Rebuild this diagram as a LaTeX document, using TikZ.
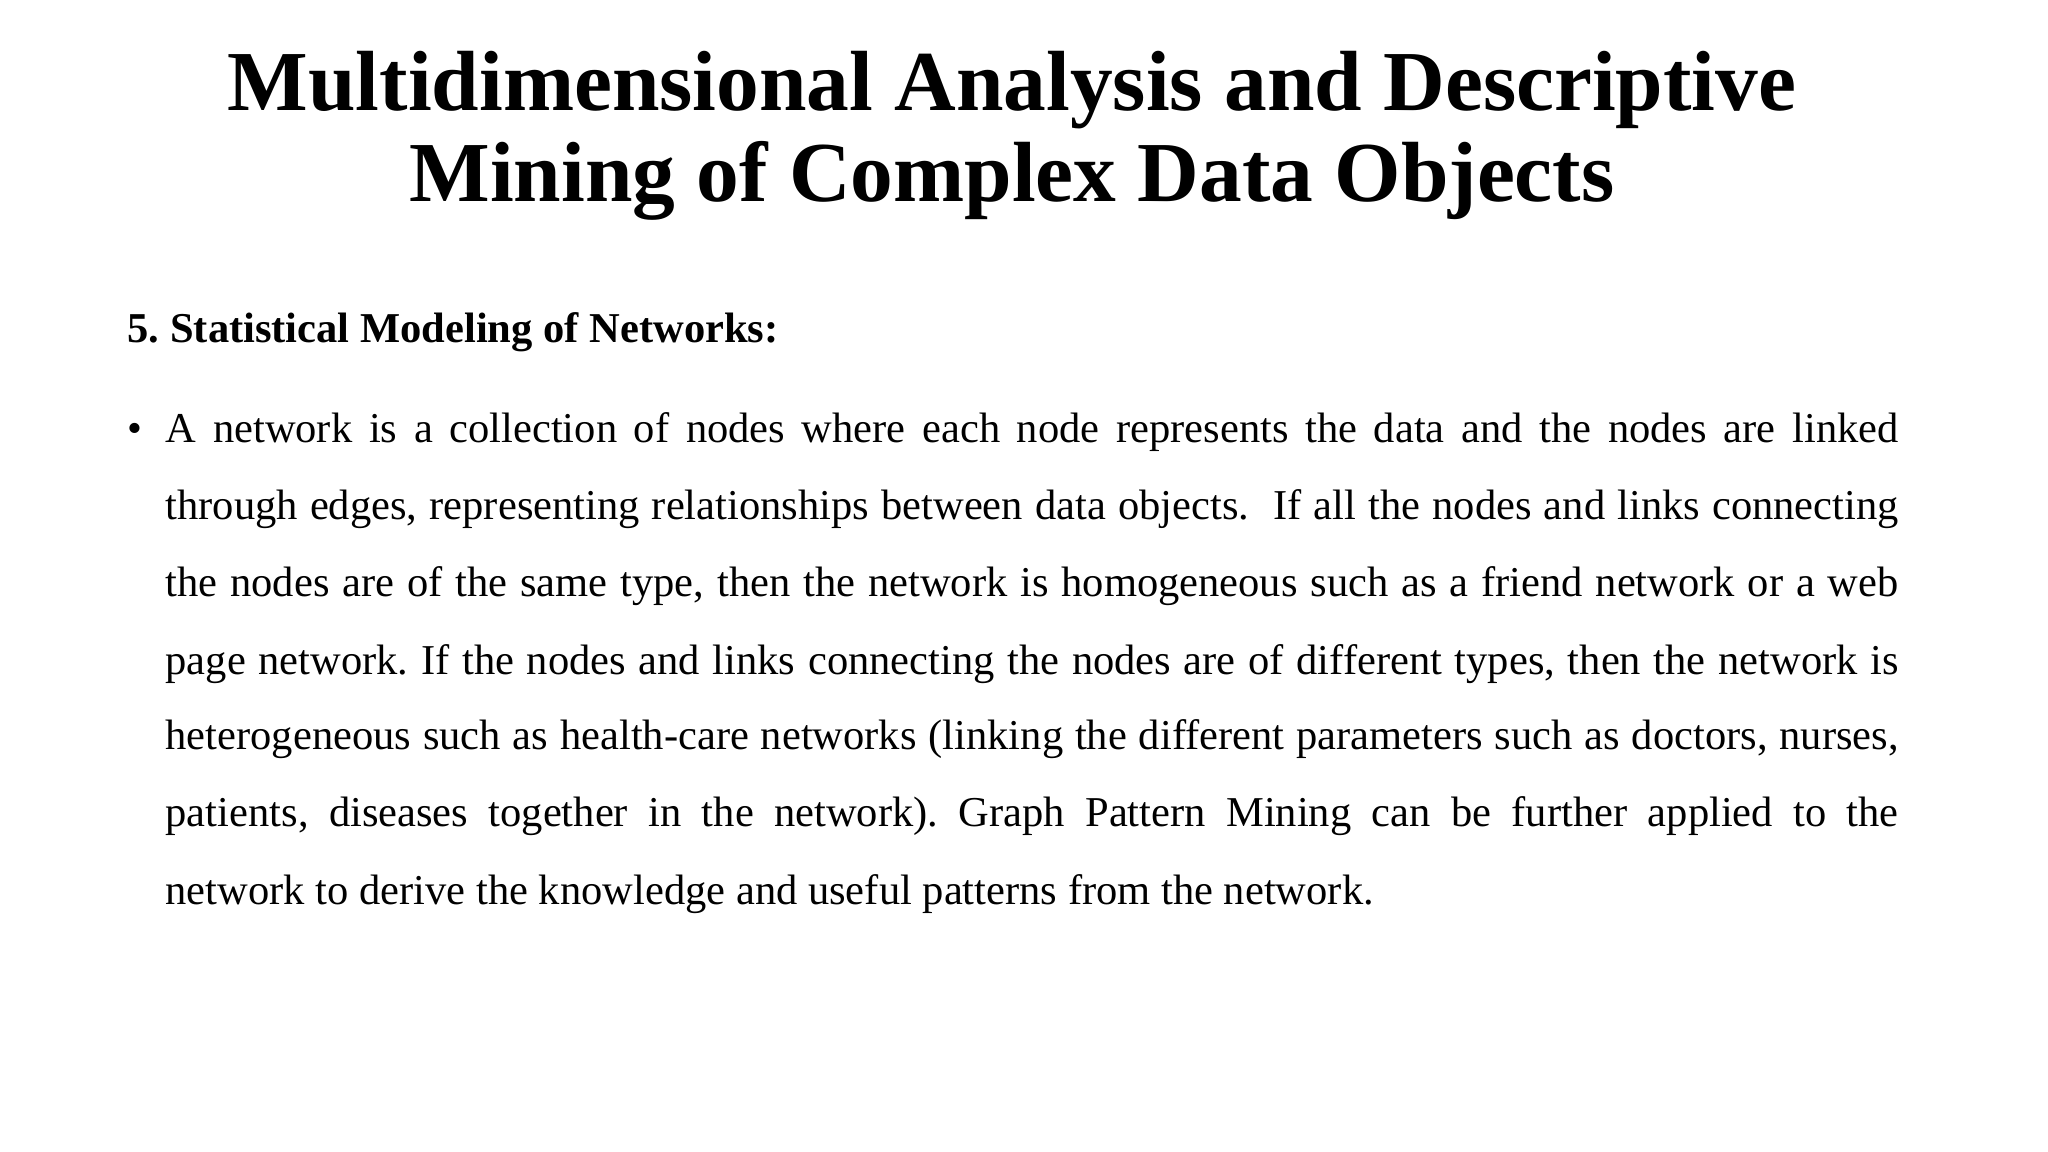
\documentclass[tikz,border=0pt]{standalone}
\usepackage{fontspec}
\setmainfont{Liberation Serif}
\frenchspacing
\tikzset{
 title/.style={anchor=base,font=\fontsize{24.3}{28}\selectfont\bfseries,inner sep=0pt},
 head/.style={anchor=base west,font=\fontsize{12.1}{15}\selectfont\bfseries,inner sep=0pt},
 body/.style={anchor=base west,font=\fontsize{12.1}{15}\selectfont,inner sep=0pt},
}
\newcommand{\jl}[1]{\makebox[17.33cm][s]{#1}}
\begin{document}
\begin{tikzpicture}
\useasboundingbox[fill=white] (0,0) rectangle (20.48,-11.52);
\node[title] (t1) at (10.12,-1.11) {Multidimensional Analysis and Descriptive};
\node[title] (t2) at (10.12,-2.02) {Mining of Complex Data Objects};
\node[head] (h) at (1.27,-3.43) {5. Statistical Modeling of Networks:};
\node[body] (b) at (1.27,-4.43) {•};
\node[body] (l1) at (1.65,-4.43) {\jl{A network is a collection of nodes where each node represents the data and the nodes are linked}};
\node[body] (l2) at (1.65,-5.20) {\jl{through edges, representing relationships between data objects.\ \ If all the nodes and links connecting}};
\node[body] (l3) at (1.65,-5.97) {\jl{the nodes are of the same type, then the network is homogeneous such as a friend network or a web}};
\node[body] (l4) at (1.65,-6.74) {\jl{page network. If the nodes and links connecting the nodes are of different types, then the network is}};
\node[body] (l5) at (1.65,-7.50) {\jl{heterogeneous such as health-care networks (linking the different parameters such as doctors, nurses,}};
\node[body] (l6) at (1.65,-8.27) {\jl{patients, diseases together in the network). Graph Pattern Mining can be further applied to the}};
\node[body] (l7) at (1.65,-9.04) {network to derive the knowledge and useful patterns from the network.};
\end{tikzpicture}
\end{document}
